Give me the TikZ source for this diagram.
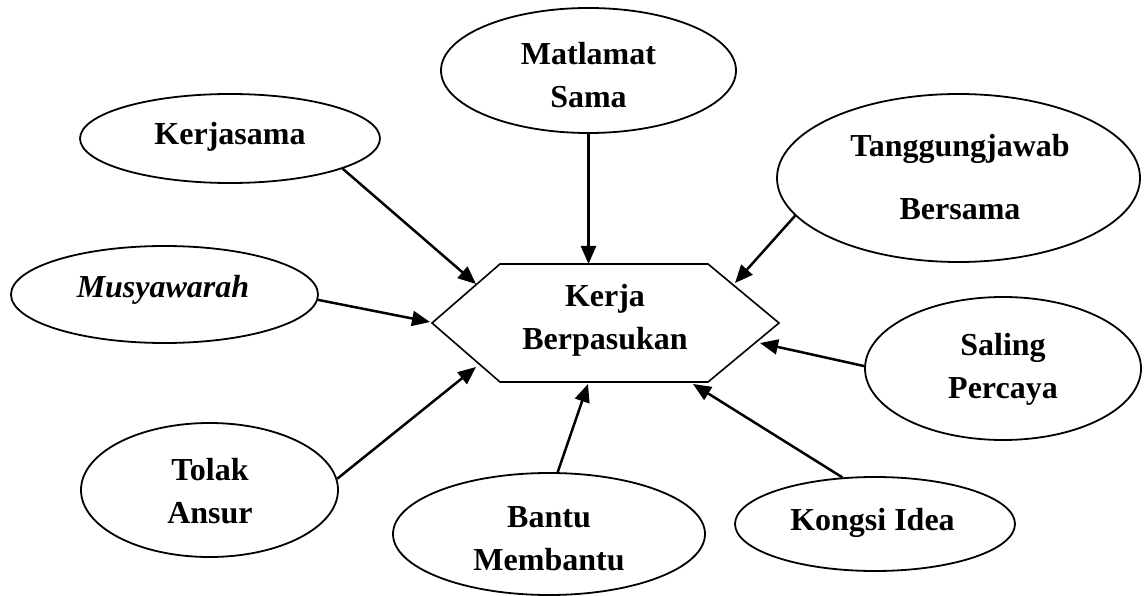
\documentclass[tikz,border=0pt]{standalone}
\usepackage{fontspec}
\setmainfont{Liberation Serif}
\usetikzlibrary{arrows.meta,shapes.geometric}
\tikzset{
  ell/.style={draw, ellipse, line width=1.8pt, inner sep=0pt},
  txt/.style={inner sep=0pt, align=center, anchor=base,
    font=\fontsize{32}{43}\selectfont\bfseries},
  arr/.style={line width=2.5pt, -{Triangle[length=18pt,width=15pt]}},
  hexline/.style={line width=1.6pt, line join=miter}
}
\begin{document}
\begin{tikzpicture}[x=1pt,y=-1pt]
\useasboundingbox (0,0) rectangle (1146,596);
% central hexagon
\draw[hexline] (432,323) -- (500,264) -- (708,264) -- (779,323) -- (708,382) -- (500,382) -- cycle;
\node[txt] (hex) at (605,349) {Kerja\\Berpasukan};
% ellipses
\node[ell, minimum width=295pt, minimum height=125pt] (mat) at (588.5,70.5) {};
\node[ell, minimum width=300pt, minimum height=89pt] (ker) at (230,138.5) {};
\node[ell, minimum width=307pt, minimum height=97pt] (mus) at (164.5,294.5) {};
\node[ell, minimum width=363pt, minimum height=168pt] (tan) at (958.5,178) {};
\node[ell, minimum width=276pt, minimum height=143pt] (sal) at (1003,368.5) {};
\node[ell, minimum width=257pt, minimum height=134pt] (tol) at (209.5,490) {};
\node[ell, minimum width=312pt, minimum height=122pt] (ban) at (549,534) {};
\node[ell, minimum width=280pt, minimum height=94pt] (kon) at (875,524) {};
% texts
\node[txt] (matt) at (588.5,108) {Matlamat\\Sama};
\node[txt] (kert) at (230,145) {Kerjasama};
\node[txt] (must) at (163,298) {\itshape Musyawarah};
\node[txt, font=\fontsize{32}{63}\selectfont\bfseries] (tant) at (960,220) {Tanggungjawab\\Bersama};
\node[txt] (salt) at (1003,398) {Saling\\Percaya};
\node[txt] (tolt) at (210,523) {Tolak\\Ansur};
\node[txt] (bant) at (549,570) {Bantu\\Membantu};
\node[txt] (kont) at (872.5,530) {Kongsi Idea};
% arrow tips
\coordinate (tmat) at (588.5,264);
\coordinate (tker) at (476,284);
\coordinate (ttan) at (735,283);
\coordinate (tmus) at (430,322);
\coordinate (tsal) at (760,343);
\coordinate (ttol) at (476,367);
\coordinate (tban) at (588,384);
\coordinate (tkon) at (693,384);
% connectors
\draw[arr] (mat.south) -- (tmat);
\draw[arr] (ker.-15) -- (tker);
\draw[arr] (tan.193) -- (ttan);
\draw[arr] (mus.-2) -- (tmus);
\draw[arr] (sal.179) -- (tsal);
\draw[arr] (tol.5) -- (ttol);
\draw[arr] (ban.82) -- (tban);
\draw[arr] (kon.125) -- (tkon);
\end{tikzpicture}
\end{document}
